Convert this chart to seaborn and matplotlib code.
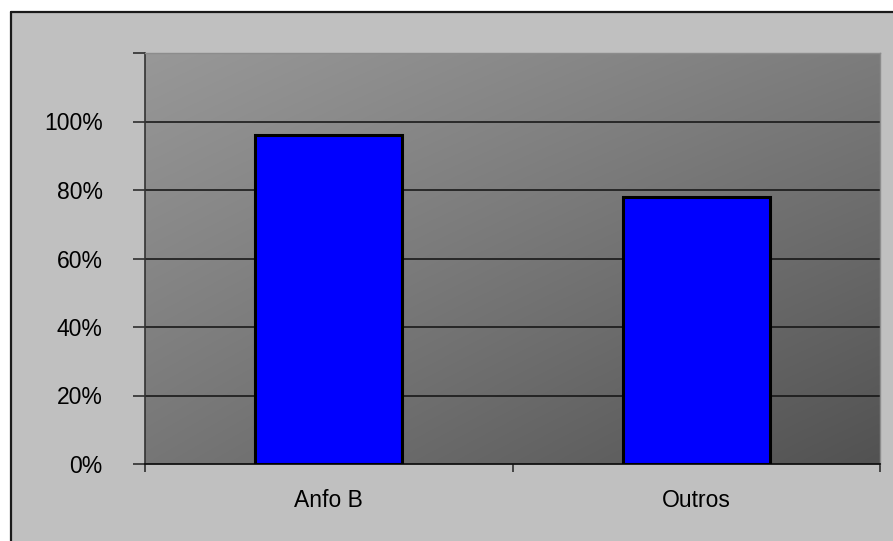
import numpy as np
import pandas as pd
import matplotlib
matplotlib.use("Agg")
import matplotlib.pyplot as plt
from matplotlib.patches import Rectangle
import seaborn as sns

# Share of each group
categories = ["Anfo B", "Outros"]
shares = [0.96, 0.78]
y_ticks = [0.0, 0.2, 0.4, 0.6, 0.8, 1.0, 1.2]
y_tick_labels = ["0%", "20%", "40%", "60%", "80%", "100%", ""]

df = pd.DataFrame({"grupo": categories, "valor": shares})

sns.set_theme(style="white")
plt.rcParams["font.family"] = ["Liberation Sans", "DejaVu Sans"]

W, H = 893, 541
fig = plt.figure(figsize=(W / 100, H / 100), dpi=100)
fig.patch.set_facecolor("white")

# Grey chart area with black frame on the left and top
frame = Rectangle((10.5 / W, 0), 1, 1 - 11.5 / H, transform=fig.transFigure,
                  facecolor="#c0c0c0", edgecolor="none", zorder=-10)
fig.patches.append(frame)
fig.add_artist(plt.Line2D([10.5 / W, 10.5 / W], [0, 1 - 11.5 / H],
                          transform=fig.transFigure, color="#1a1a1a", lw=1.6, zorder=-5))
fig.add_artist(plt.Line2D([10.5 / W, 1], [1 - 11.5 / H, 1 - 11.5 / H],
                          transform=fig.transFigure, color="#1a1a1a", lw=1.6, zorder=-5))

left, right = 145 / W, 880 / W
bottom, top = (H - 464) / H, (H - 53) / H
ax = fig.add_axes([left, bottom, right - left, top - bottom])
ax.set_zorder(1)

# Diagonal grey gradient for the plotting area
corners = np.array([[152, 124], [118, 82]], dtype=float) / 255.0  # [top row], [bottom row]
n = 200
u = np.linspace(0, 1, n)
v = np.linspace(0, 1, n)
U, V = np.meshgrid(u, v)
grad = (corners[0, 0] * (1 - U) * (1 - V) + corners[0, 1] * U * (1 - V)
        + corners[1, 0] * (1 - U) * V + corners[1, 1] * U * V)
ax.imshow(np.dstack([grad, grad, grad]), extent=[0, 1, 0, 1], transform=ax.transAxes,
          aspect="auto", zorder=0, interpolation="bilinear")

sns.barplot(data=df, x="grupo", y="valor", color="#0000ff", width=0.4,
            edgecolor="black", linewidth=2.2, saturation=1, ax=ax, zorder=3)

ax.set_xlim(-0.5, 1.5)
ax.set_ylim(0, 1.2)
ax.set_xlabel("")
ax.set_ylabel("")

# Horizontal gridlines
for yv in y_ticks[1:-1]:
    ax.axhline(yv, color="#111111", lw=1.1, zorder=2)

ax.set_yticks(y_ticks)
ax.set_yticklabels(y_tick_labels)
ax.tick_params(axis="y", which="major", left=True, length=8.6, width=1.1,
               color="#222222", pad=22, labelsize=16.5, labelcolor="black")

ax.set_xticks([-0.5, 0.5, 1.5])
ax.set_xticklabels(["", "", ""])
ax.tick_params(axis="x", which="major", bottom=True, length=5.8, width=1.1,
               color="#222222")
ax.set_xticks([0, 1], minor=True)
ax.set_xticklabels(categories, minor=True)
ax.tick_params(axis="x", which="minor", bottom=False, length=0, pad=18,
               labelsize=16.5, labelcolor="black")

for side in ["top", "right"]:
    ax.spines[side].set_color("#8c8c8c")
    ax.spines[side].set_linewidth(1.0)
ax.spines["left"].set_color("#333333")
ax.spines["left"].set_linewidth(1.2)
ax.spines["bottom"].set_color("#111111")
ax.spines["bottom"].set_linewidth(1.3)
ax.grid(False)

fig.savefig("out.png", dpi=100, facecolor=fig.get_facecolor())
